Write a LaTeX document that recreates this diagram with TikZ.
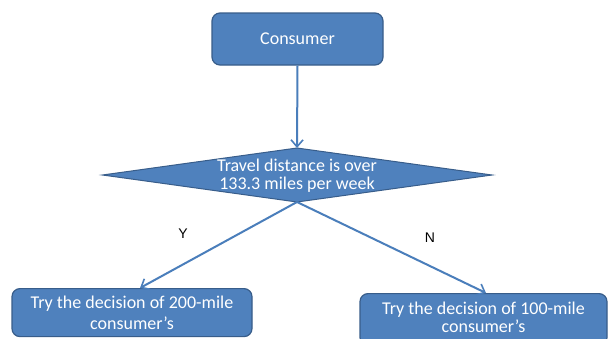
\documentclass[tikz,border=0pt]{standalone}
\usepackage{fontspec}
\setmainfont{Carlito}
\newfontfamily\lblfont{Liberation Sans}
\usetikzlibrary{arrows.meta}
\definecolor{boxfill}{HTML}{4F81BD}
\definecolor{boxline}{HTML}{385D8A}
\definecolor{arrowc}{HTML}{4A7EBB}
\begin{document}
\begin{tikzpicture}[x=1pt,y=-1pt,
  box/.style={draw=boxline,line width=1.2pt,fill=boxfill,rounded corners=8pt,inner sep=0pt},
  btext/.style={text=white,font=\fontsize{18}{20}\selectfont,align=center,inner sep=0pt},
  conn/.style={draw=arrowc,line width=2pt,-{Straight Barb[length=7pt,width=12pt,line width=1.6pt]}},
  lbl/.style={font=\lblfont\fontsize{14}{16}\selectfont,text=black}]
\useasboundingbox (0,0) rectangle (608,338);
\clip (0,0) rectangle (608,338);
\fill[white] (0,0) rectangle (608,338);
% consumer
\node[box,minimum width=171pt,minimum height=52pt] (cons) at (297.5,39) {};
\node[btext] (ctext) at (297.5,39) {Consumer};
% diamond
\coordinate (dl) at (102.5,175);
\coordinate (dr) at (492,175);
\coordinate (dt) at (297,148);
\coordinate (db) at (297,202);
\draw[draw=boxline,line width=1pt,fill=boxfill] (dl) -- (dt) -- (dr) -- (db) -- cycle;
\node[btext,font=\fontsize{18}{18}\selectfont] (dtext) at (297,176) {Travel distance is over\\133.3 miles per week};
% bottom boxes
\node[box,minimum width=240pt,minimum height=48pt,anchor=north] (left) at (132,288) {};
\node[btext,font=\fontsize{18}{21}\selectfont] (ltext) at (132,313) {Try the decision of 200-mile\\consumer’s};
\node[box,minimum width=247pt,minimum height=52pt,anchor=north] (right) at (483.5,293) {};
\node[btext,font=\fontsize{18}{18}\selectfont] (rtext) at (483.5,317.5) {Try the decision of 100-mile\\consumer’s};
% connectors
\draw[conn] (cons.south) -- (dt);
\draw[conn] (db) -- ([xshift=8pt]left.north);
\draw[conn] (db) -- ([xshift=2.5pt]right.north);
\node[lbl] (y) at (183,234) {Y};
\node[lbl] (n) at (430,238) {N};
\end{tikzpicture}
\end{document}
